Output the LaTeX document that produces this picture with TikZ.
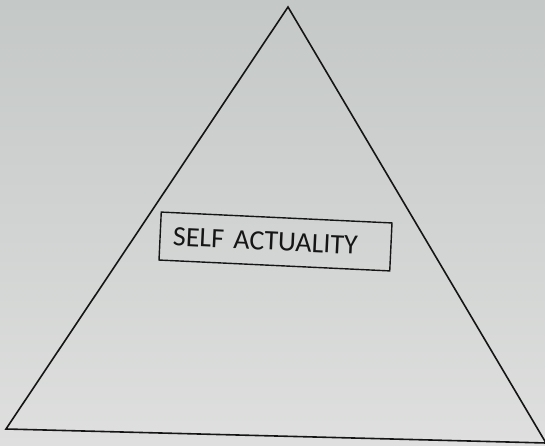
\documentclass[tikz,border=0pt]{standalone}
\usepackage{fontspec}
\setmainfont{Carlito}
\usepackage{xcolor}
\usepackage{tikz}
\usetikzlibrary{positioning}
\definecolor{paperdark}{HTML}{C4C8C6}
\definecolor{paperlight}{HTML}{DEDFDE}
\definecolor{inkdark}{HTML}{151515}
\tikzset{
  pyramid/.style={draw=inkdark, line width=1.6pt, line join=miter},
  labelbox/.style={draw=inkdark, line width=1.4pt, rotate=-2.7,
                   minimum height=48pt, text width=205pt, inner xsep=13pt,
                   align=left, font=\fontsize{28}{34}\selectfont, text=inkdark},
}

\begin{document}
\begin{tikzpicture}[x=1pt, y=1pt]
  \useasboundingbox (0,0) rectangle (545,446);
  \fill[top color=paperdark, bottom color=paperlight] (0,0) rectangle (545,446);

  \coordinate (apex) at (288,439);
  \coordinate (baseleft) at (6,17);
  \coordinate (baseright) at (546,3);
  \draw[pyramid] (apex) -- (baseleft) -- (baseright) -- cycle;

  \node[labelbox] (self) at (275.5,204.5) {SELF ACTUALITY};
\end{tikzpicture}
\end{document}
